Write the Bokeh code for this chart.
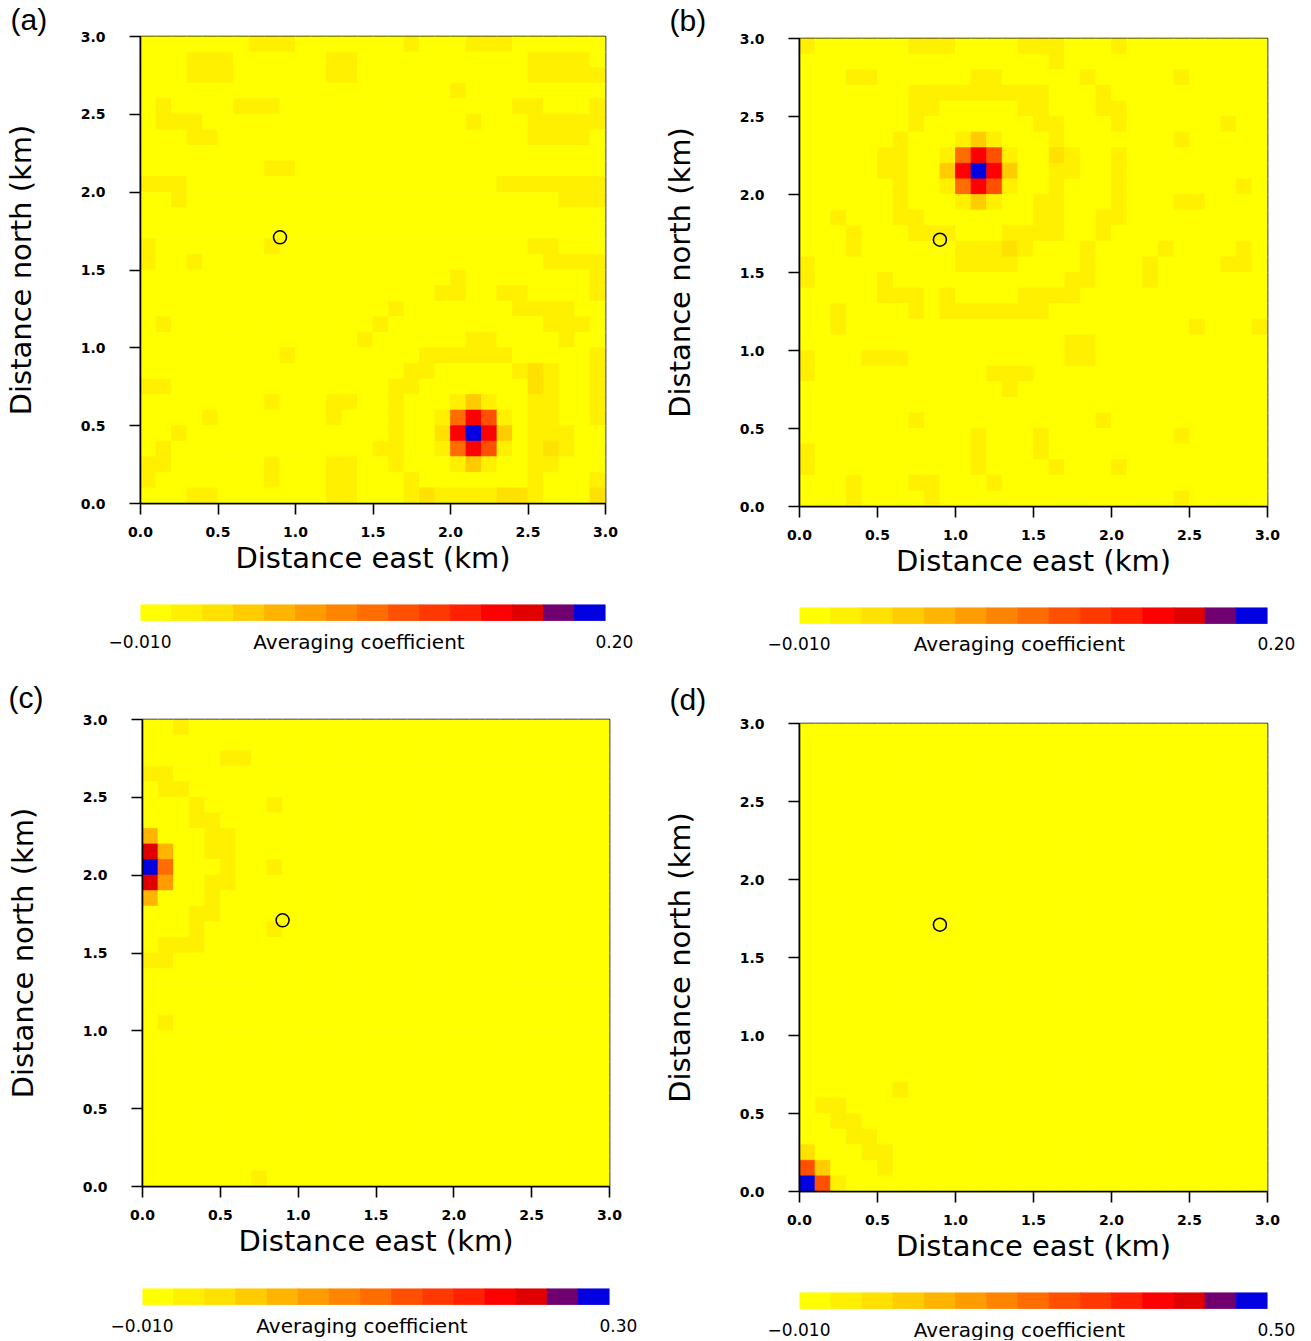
import numpy as np
from bokeh.plotting import figure
from bokeh.models import (Range1d, LinearColorMapper, FixedTicker, LinearAxis,
                          NumeralTickFormatter, ColumnDataSource, Title)
from bokeh.layouts import row, column
from bokeh.transform import transform
from bokeh.core.properties import value
from bokeh.embed import file_html
from bokeh.resources import INLINE

# ---------------------------------------------------------------- data
palette = ["#FFFF00", "#FFF000", "#FFE100", "#FFCC00", "#FFB400",
           "#FF9C00", "#FF8400", "#FF6C00", "#FF5000", "#FF3800",
           "#FF2000", "#FF0000", "#E00000", "#700070", "#0000E0"]
# one character per colour class, lowest class first
level_codes = ".123456789abcde"

east_ticks = [0.0, 0.5, 1.0, 1.5, 2.0, 2.5, 3.0]
north_ticks = [0.0, 0.5, 1.0, 1.5, 2.0, 2.5, 3.0]
cell_km = 0.1
n_cells = 30

coef_min = -0.010
coef_min_label = "\u22120.010"
coef_max = {"a": 0.20, "b": 0.20, "c": 0.30, "d": 0.50}
coef_max_label = {"a": "0.20", "b": "0.20", "c": "0.30", "d": "0.50"}
bar_title = "Averaging coefficient"

station_east = [0.9]
station_north = [1.71]

# averaging-coefficient classes, rows listed from north (3.0 km) to south (0.0 km)
kernel_a = [
    ".......111.......1...111......",
    "...111......11...........1111.",
    "...111......11...........11111",
    "....................1.........",
    ".1....111...............11...1",
    ".111.................1...11111",
    "...11....................1111.",
    "..............................",
    "........11....................",
    "111....................1111111",
    "..1........................111",
    "..............................",
    "..............................",
    "1.......1................11...",
    "1..1......................1111",
    "....................1........1",
    "...................11..11....1",
    "................1.......1111..",
    ".1.............1..........111.",
    "..............1......11....1..",
    ".........1........111111.....1",
    ".................11.....121..1",
    "11..............11.......21..1",
    "........1...11..1...131..11..1",
    "....1.......1...1..17b81.11..1",
    "..1.............1..2beb3.111..",
    ".1.............11..17b81.121..",
    "11......1...11..1...131..11...",
    "1.......1...11...1.......1...1",
    "...11.......11...121111221...2",
]

kernel_b = [
    "1......111....111...1.........",
    "................1.............",
    "...11......11.....1.....1.....",
    ".......111111111...1..........",
    ".......11.....11...11.........",
    ".......1.......11...1......1..",
    "......1...131...1.......1.....",
    ".....11..17b81..21..1.........",
    ".....11..3beb3..11..1.........",
    "......1..17b81..1...1.......1.",
    "......1...131..11...1...11....",
    "..1...11.......11..11.........",
    "...1...111...1111..1..........",
    "...1......11121...1....1....1.",
    "1.........1111....1...1....11.",
    "1....1...........11...1.......",
    ".....111.1....1111............",
    "..1....1.1111111..............",
    "..1......................1...1",
    ".................11...........",
    "1...111..........11...........",
    "1...........111...............",
    ".............1................",
    "..............................",
    ".......1...........1..........",
    "...........1...1........1.....",
    "1..........1...1..............",
    "1..........1....1...1.........",
    "...1...11...1.................",
    "...1....1...............1.....",
]

kernel_c = [
    "..1...........................",
    "..............................",
    ".....11.......................",
    "11............................",
    ".11...........................",
    "...1....1.....................",
    "...11.........................",
    "4...11........................",
    "c4..11........................",
    "e7...1..1.....................",
    "c5..11........................",
    "4...1.........................",
    "...11.........................",
    "...1....1.....................",
    ".111..........................",
    "11............................",
    "..............................",
    "..............................",
    "..............................",
    ".1............................",
    "..............................",
    "..............................",
    "..............................",
    "..............................",
    "..............................",
    "..............................",
    "..............................",
    "..............................",
    "..............................",
    ".......1......................",
]

kernel_d = [
    "..............................",
    "..............................",
    "..............................",
    "..............................",
    "..............................",
    "..............................",
    "..............................",
    "..............................",
    "..............................",
    "..............................",
    "..............................",
    "..............................",
    "..............................",
    "..............................",
    "..............................",
    "..............................",
    "..............................",
    "..............................",
    "..............................",
    "..............................",
    "..............................",
    "..............................",
    "..............................",
    "......1.......................",
    ".11...........................",
    "..11..........................",
    "...11.........................",
    "2...11........................",
    "83...1........................",
    "e81...........................",
]

kernels = {"a": kernel_a, "b": kernel_b, "c": kernel_c, "d": kernel_d}

# page geometry of each panel (pixel borders around the square map frame)
geometry = {
    "a": dict(left=138, right=50, top=36, bottom=77, bar_fig_h=90, label_y=61, tag_x=8, tag_gap=1),
    "b": dict(left=144, right=43, top=38, bottom=77, bar_fig_h=87, label_y=60, tag_x=14, tag_gap=3),
    "c": dict(left=142, right=46, top=49, bottom=78, bar_fig_h=76, label_y=61, tag_x=8, tag_gap=11),
    "d": dict(left=144, right=43, top=53, bottom=77, bar_fig_h=72, label_y=61, tag_x=14, tag_gap=15),
}
PANEL_W = 655
BAR_TOP = 24
BAR_H = 16

FONT = "DejaVu Sans"
TAG_FONT = "Liberation Sans"
NUM_PX = 17


def kernel_source(rows, vmin, vmax):
    step = (vmax - vmin) / len(palette)
    xs, ys, vs = [], [], []
    for r, line in enumerate(rows):
        north = (n_cells - 1 - r) * cell_km + cell_km / 2
        for c, ch in enumerate(line):
            xs.append(c * cell_km + cell_km / 2)
            ys.append(north)
            vs.append(vmin + (level_codes.index(ch) + 0.5) * step)
    return ColumnDataSource(dict(x=xs, y=ys, v=vs))


def style_axis(ax):
    ax.major_tick_out = 11
    ax.major_tick_in = 0
    ax.minor_tick_line_color = None
    ax.axis_line_width = 1.6
    ax.major_tick_line_width = 1.6
    ax.major_label_text_font = FONT
    ax.major_label_text_font_size = "14px"
    ax.major_label_text_font_style = "bold"
    ax.major_label_text_color = "black"
    ax.axis_label_text_font = FONT
    ax.axis_label_text_font_size = "29px"
    ax.axis_label_text_font_style = "normal"
    ax.axis_label_text_color = "black"


def end_label_axis(label_row, text, standoff):
    ax = LinearAxis(ticker=FixedTicker(ticks=[label_row]),
                    major_label_overrides={label_row: text})
    ax.axis_line_color = None
    ax.major_tick_line_color = None
    ax.minor_tick_line_color = None
    ax.major_tick_out = 0
    ax.major_tick_in = 0
    ax.major_label_standoff = standoff
    ax.major_label_text_font = FONT
    ax.major_label_text_font_size = "%dpx" % NUM_PX
    ax.major_label_text_color = "black"
    return ax


def make_panel(tag):
    g = geometry[tag]
    vmin, vmax = coef_min, coef_max[tag]
    frame = PANEL_W - g["left"] - g["right"]
    heat_h = g["top"] + frame + g["bottom"]

    mapper = LinearColorMapper(palette=palette, low=vmin, high=vmax)

    p = figure(width=PANEL_W, height=heat_h, x_range=Range1d(0, 3), y_range=Range1d(0, 3),
               x_axis_type=None, y_axis_type=None, output_backend="svg",
               toolbar_location=None, min_border_left=g["left"], min_border_right=g["right"],
               min_border_top=g["top"], min_border_bottom=g["bottom"],
               title=Title(text="(%s)" % tag, align="left",
                           offset=-(g["left"] - g["tag_x"]), standoff=g["tag_gap"],
                           text_font=TAG_FONT, text_font_size="30px",
                           text_font_style="normal", text_color="black"))
    p.grid.visible = False
    p.outline_line_color = "black"
    p.outline_line_width = 1.6
    p.background_fill_color = "white"

    src = kernel_source(kernels[tag], vmin, vmax)
    p.rect(x="x", y="y", width=cell_km, height=cell_km, source=src,
           fill_color=transform("v", mapper), line_color=transform("v", mapper),
           line_width=0.8)

    p.scatter(x=station_east, y=station_north, marker="circle", size=13,
              fill_color=None, line_color="black", line_width=1.5)

    yax = LinearAxis(ticker=FixedTicker(ticks=north_ticks),
                     formatter=NumeralTickFormatter(format="0.0"),
                     axis_label="Distance north (km)")
    style_axis(yax)
    yax.major_label_standoff = 24
    yax.axis_label_standoff = 40
    p.add_layout(yax, "left")

    xax = LinearAxis(ticker=FixedTicker(ticks=east_ticks),
                     formatter=NumeralTickFormatter(format="0.0"),
                     axis_label="Distance east (km)")
    style_axis(xax)
    xax.major_label_text_align = "left"
    xax.major_label_standoff = 12
    xax.axis_label_standoff = 1
    p.add_layout(xax, "below")

    # colour bar strip: the frame runs from the top of the bar down to the
    # bottom of the strip; y counts pixels downward from the bar top
    bh = g["bar_fig_h"]
    depth = bh - BAR_TOP
    cb = figure(width=PANEL_W, height=bh, x_range=Range1d(vmin, vmax),
                y_range=Range1d(depth, 0), x_axis_type=None, y_axis_type=None,
                output_backend="svg", toolbar_location=None,
                min_border_left=g["left"], min_border_right=g["right"],
                min_border_top=BAR_TOP, min_border_bottom=0)
    cb.grid.visible = False
    cb.outline_line_color = None
    edges = np.linspace(vmin, vmax, len(palette) + 1)
    bins = ColumnDataSource(dict(left=edges[:-1], right=edges[1:],
                                 mid=(edges[:-1] + edges[1:]) / 2))
    cb.quad(left="left", right="right", top=0, bottom=BAR_H, source=bins,
            fill_color=transform("mid", mapper), line_color=transform("mid", mapper),
            line_width=0.8)

    label_row = g["label_y"] - BAR_TOP
    cb.text(x=[(vmin + vmax) / 2], y=[label_row], text=[bar_title], x_offset=-14,
            text_align="center", text_baseline="middle", text_font=value(FONT),
            text_font_size="20px", text_color="black")

    # end values, centred under the bar ends
    min_w = 3.7 * NUM_PX
    max_w = 2.226 * NUM_PX
    cb.add_layout(end_label_axis(label_row, coef_min_label, -int(round(min_w / 2))), "left")
    cb.add_layout(end_label_axis(label_row, coef_max_label[tag], -int(round(max_w / 2 - 9))), "right")

    return column(p, cb, spacing=0)


layout = column(row(make_panel("a"), make_panel("b"), spacing=0),
                row(make_panel("c"), make_panel("d"), spacing=0), spacing=0)

with open("out.html", "w") as f:
    f.write(file_html(layout, INLINE, title="Averaging coefficients"))
